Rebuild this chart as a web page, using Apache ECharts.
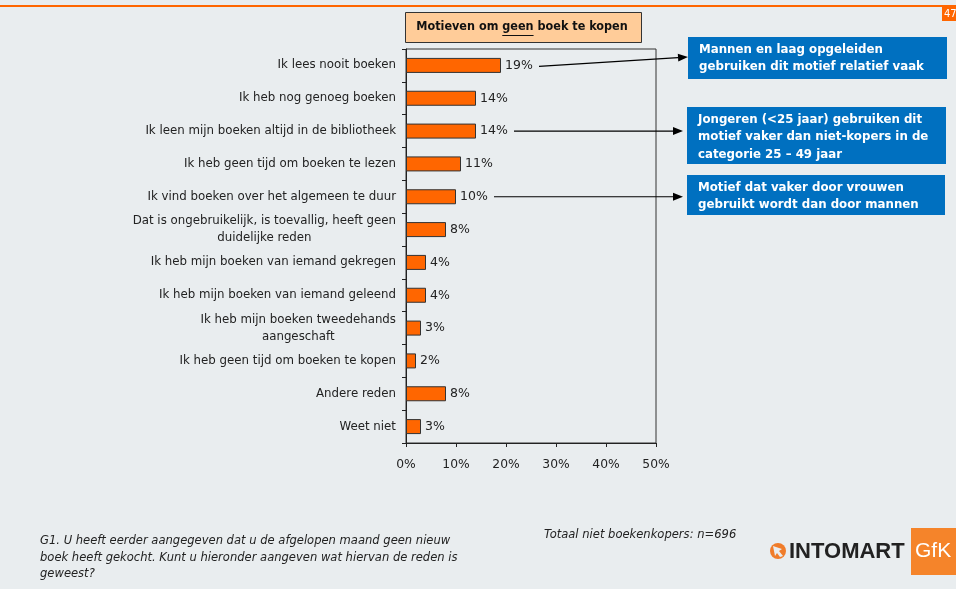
<!DOCTYPE html>
<html>
<head>
<meta charset="utf-8">
<script src="https://cdn.jsdelivr.net/npm/echarts@6/dist/echarts.min.js"></script>
<style>
  html, body { margin: 0; padding: 0; background: #e9edef; }
  #chart { width: 956px; height: 589px; }
</style>
</head>
<body>
<div id="chart"></div>
<script>
// Reasons given for not buying a book (share of non-buyers, %)
const categories = [
  'Ik lees nooit boeken',
  'Ik heb nog genoeg boeken',
  'Ik leen mijn boeken altijd in de bibliotheek',
  'Ik heb geen tijd om boeken te lezen',
  'Ik vind boeken over het algemeen te duur',
  'Dat is ongebruikelijk, is toevallig, heeft geen\nduidelijke reden',
  'Ik heb mijn boeken van iemand gekregen',
  'Ik heb mijn boeken van iemand geleend',
  'Ik heb mijn boeken tweedehands\naangeschaft',
  'Ik heb geen tijd om boeken te kopen',
  'Andere reden',
  'Weet niet'
];
const shares = [19, 14, 14, 11, 10, 8, 4, 4, 3, 2, 8, 3];
const axisMax = 50;
const axisStep = 10;

// Notes attached to individual reasons
const noteTargets = [0, 2, 4];
const noteTexts = [
  'Mannen en laag opgeleiden\ngebruiken dit motief relatief vaak',
  'Jongeren (<25 jaar) gebruiken dit\nmotief vaker dan niet-kopers in de\ncategorie 25 \u2013 49 jaar',
  'Motief dat vaker door vrouwen\ngebruikt wordt dan door mannen'
];

const titleText = 'Motieven om geen boek te kopen';
const questionText = 'G1. U heeft eerder aangegeven dat u de afgelopen maand geen nieuw\nboek heeft gekocht. Kunt u hieronder aangeven wat hiervan de reden is\ngeweest?';
const baseText = 'Totaal niet boekenkopers: n=696';
const pageNumber = '47';

const FONT = 'DejaVu Sans';
const ORANGE = '#ff6600';
const INK = '#222';
const BG = '#e9edef';

const chart = echarts.init(document.getElementById('chart'), null, { renderer: 'canvas' });

chart.setOption({
  backgroundColor: BG,
  animation: false,
  grid: {
    left: 406, right: 300, top: 49, bottom: 146,
    show: true, borderColor: '#333', borderWidth: 1, backgroundColor: 'transparent'
  },
  xAxis: {
    type: 'value', min: 0, max: axisMax, interval: axisStep,
    axisLine: { show: true, lineStyle: { color: INK, width: 1 } },
    axisTick: { show: true, length: 4, lineStyle: { color: INK } },
    splitLine: { show: false },
    axisLabel: { formatter: '{value}%', color: INK, fontFamily: FONT, fontSize: 12.3, margin: 16 }
  },
  yAxis: {
    type: 'category', inverse: true, data: categories,
    axisLine: { show: true, lineStyle: { color: INK, width: 1 } },
    axisTick: { show: true, length: 4, lineStyle: { color: INK } },
    axisLabel: {
      margin: 10, color: INK, fontFamily: FONT, fontSize: 11.8,
      formatter: v => v.split('\n').map(s => '{c|' + s + '}').join('\n'),
      rich: { c: { align: 'center', lineHeight: 17, fontFamily: FONT, fontSize: 11.8, color: INK } }
    }
  },
  series: [{
    type: 'bar',
    data: shares,
    barWidth: 15,
    itemStyle: { color: ORANGE, borderColor: '#333', borderWidth: 1 },
    label: {
      show: true, position: 'right', distance: 4,
      formatter: p => p.value + '%',
      color: INK, fontFamily: FONT, fontSize: 12.5
    }
  }]
});

// Annotation layer: title, notes with arrows, footer and logo
const g = [];

g.push({ type: 'rect', shape: { x: 0, y: 5, width: 956, height: 2 }, style: { fill: ORANGE }, silent: true });
g.push({ type: 'rect', shape: { x: 942, y: 7, width: 14, height: 14 }, style: { fill: ORANGE }, silent: true });
g.push({ type: 'text', x: 944, y: 9, style: { text: pageNumber, fill: '#fff', font: '10px ' + FONT } });

// Title box
const titleFont = 'bold 12.5px "DejaVu Sans Condensed", "DejaVu Sans"';
g.push({ type: 'rect', shape: { x: 405.5, y: 12.5, width: 236, height: 30 }, style: { fill: '#ffcc99', stroke: '#333', lineWidth: 1 } });
g.push({
  type: 'text', x: 522, y: 27,
  style: { text: titleText, fill: '#111', font: titleFont, textAlign: 'center', textVerticalAlign: 'middle' }
});

// Underline beneath "geen"
(function () {
  const ctx = document.createElement('canvas').getContext('2d');
  ctx.font = titleFont;
  const full = ctx.measureText(titleText).width;
  const pre = ctx.measureText('Motieven om ').width;
  const word = ctx.measureText('geen').width;
  const x0 = 522 - full / 2 + pre;
  g.push({ type: 'line', shape: { x1: x0, y1: 35.5, x2: x0 + word, y2: 35.5 }, style: { stroke: '#111', lineWidth: 1 } });
})();

// Note boxes with arrows pointing from the value labels
const boxes = [
  { x: 688, y: 37, w: 259, h: 42, tip: [688, 57] },
  { x: 687, y: 107, w: 259, h: 57, tip: [683, 130] },
  { x: 687, y: 175, w: 258, h: 40, tip: [683, 197] }
];
boxes.forEach((b, i) => {
  g.push({ type: 'rect', shape: { x: b.x, y: b.y, width: b.w, height: b.h }, style: { fill: '#0070c0' } });
  g.push({
    type: 'text', x: b.x + 11, y: b.y + 4,
    style: { text: noteTexts[i], fill: '#fff', font: 'bold 11.8px ' + FONT, lineHeight: 17.5, textVerticalAlign: 'top' }
  });
  const idx = noteTargets[i];
  const p = chart.convertToPixel({ xAxisIndex: 0, yAxisIndex: 0 }, [shares[idx], idx]);
  const sx = p[0] + 38, sy = i === 0 ? p[1] + 1 : p[1];
  const tx = b.tip[0], ty = i === 0 ? b.tip[1] : sy;
  const ang = Math.atan2(ty - sy, tx - sx);
  const L = 10, W = 4;
  const bx = tx - L * Math.cos(ang), by = ty - L * Math.sin(ang);
  g.push({ type: 'line', shape: { x1: sx, y1: sy, x2: bx, y2: by }, style: { stroke: '#000', lineWidth: 1.2 } });
  g.push({
    type: 'polygon',
    shape: { points: [[tx, ty], [bx - W * Math.sin(ang), by + W * Math.cos(ang)], [bx + W * Math.sin(ang), by - W * Math.cos(ang)]] },
    style: { fill: '#000' }
  });
});

// Footer texts
g.push({
  type: 'text', x: 40, y: 533,
  style: { text: questionText, fill: INK, font: 'italic 11.55px ' + FONT, lineHeight: 16.5, textVerticalAlign: 'top' }
});
g.push({
  type: 'text', x: 544, y: 529,
  style: { text: baseText, fill: INK, font: 'italic 11.55px ' + FONT, textVerticalAlign: 'top' }
});

// Logo
g.push({ type: 'circle', shape: { cx: 778, cy: 551, r: 8 }, style: { fill: '#f07c2a' } });
g.push({ type: 'polygon', shape: { points: [[773, 546], [782, 549], [779, 551], [783, 556], [780, 557], [777, 553], [775, 556]] }, style: { fill: BG } });
g.push({ type: 'text', x: 789, y: 552, style: { text: 'INTOMART', fill: '#222', font: 'bold 22px "Liberation Sans"', textVerticalAlign: 'middle' } });
g.push({ type: 'rect', shape: { x: 911, y: 528, width: 45, height: 47 }, style: { fill: '#f5842a' } });
g.push({ type: 'text', x: 915, y: 551, style: { text: 'GfK', fill: '#fff', font: '21px "Liberation Sans"', textVerticalAlign: 'middle' } });

chart.setOption({ graphic: { elements: g } });
</script>
</body>
</html>
